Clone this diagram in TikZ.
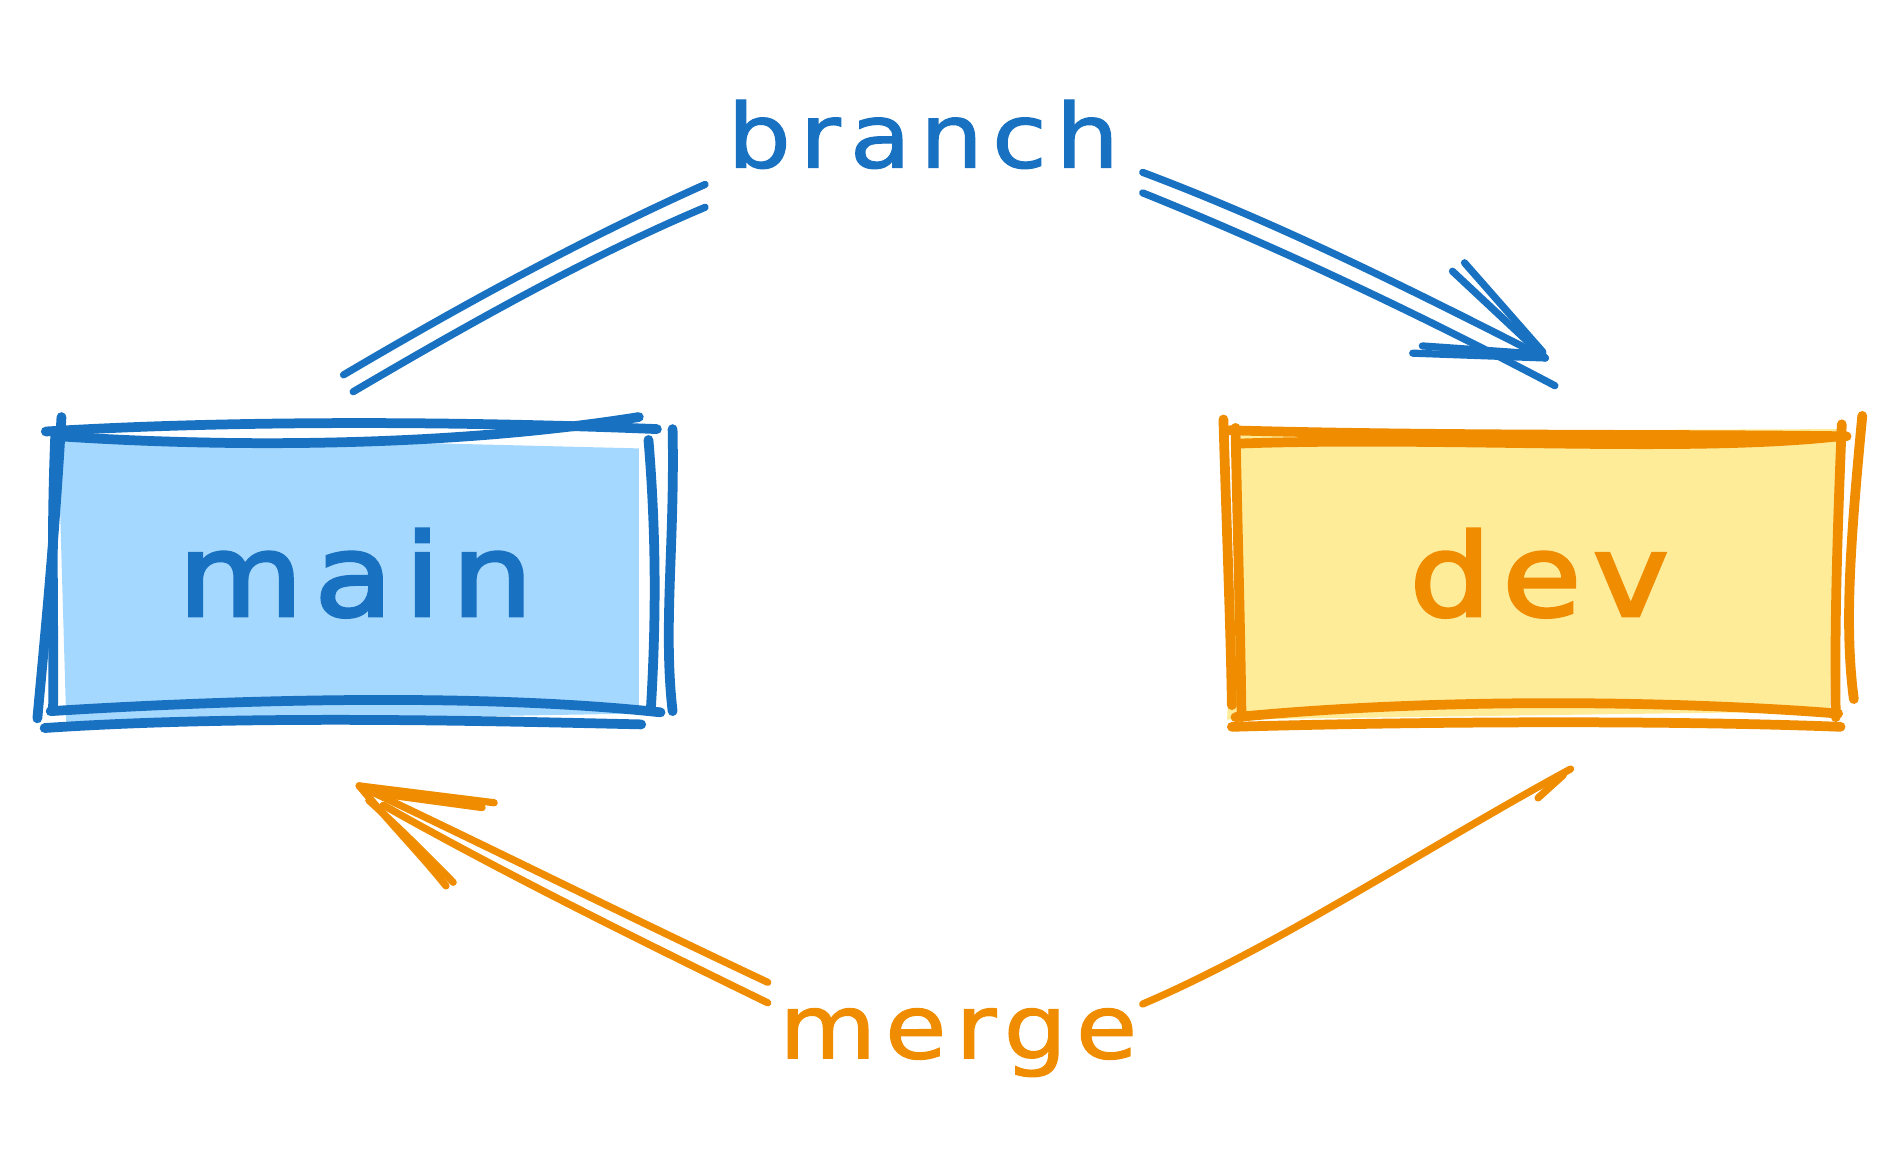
\documentclass[tikz,border=0pt]{standalone}
\usepackage{fontspec}
\setmainfont{DejaVu Sans}
\definecolor{bstroke}{HTML}{1971C2}
\definecolor{bfill}{HTML}{A5D8FF}
\definecolor{ostroke}{HTML}{F08C00}
\definecolor{ofill}{HTML}{FFEC99}
\newcommand{\wide}[1]{\scalebox{1.12}[1]{#1}}
\begin{document}
\begin{tikzpicture}[x=0.01cm,y=-0.01cm,
  sk/.style={line width=2.3pt, line cap=round, line join=round},
  ar/.style={line width=1.7pt, line cap=round, line join=round},
  boxlbl/.style={font=\fontsize{27}{30}\selectfont\addfontfeatures{LetterSpace=9,FakeBold=2.6}, inner sep=0pt, anchor=base},
  arlbl/.style={font=\fontsize{21}{24}\selectfont\addfontfeatures{LetterSpace=9,FakeBold=1.4}, inner sep=0pt, anchor=base}]
\useasboundingbox (0,0) rectangle (1568,967);

% ---- main box ----
\fill[bfill] (48,360) -- (530,372) -- (530,592) -- (55,600) -- cycle;
\begin{scope}[sk, bstroke]
\draw (38,358) .. controls (200,348) and (400,350) .. (545,356);
\draw (50,362) .. controls (200,372) and (380,370) .. (530,346);
\draw (51,346) .. controls (45,450) and (38,520) .. (31,596);
\draw (46,358) .. controls (42,450) and (45,520) .. (44,590);
\draw (538,365) .. controls (545,450) and (544,520) .. (540,588);
\draw (558,356) .. controls (560,450) and (550,520) .. (558,590);
\draw (42,590) .. controls (200,580) and (400,575) .. (548,591);
\draw (37,604) .. controls (200,593) and (400,598) .. (532,601);
\end{scope}
\node[boxlbl, text=bstroke] (main) at (295,511) {\wide{main}};

% ---- dev box ----
\fill[ofill] (1030,358) -- (1525,356) -- (1518,590) -- (1018,597) -- cycle;
\begin{scope}[sk, ostroke]
\draw (1015,348) .. controls (1018,450) and (1021,520) .. (1022,585);
\draw (1025,355) .. controls (1027,450) and (1029,520) .. (1030,595);
\draw (1020,357) .. controls (1200,362) and (1400,360) .. (1532,362);
\draw (1028,368) .. controls (1200,362) and (1400,376) .. (1525,362);
\draw (1528,352) .. controls (1524,450) and (1522,520) .. (1523,595);
\draw (1545,345) .. controls (1535,450) and (1530,520) .. (1538,580);
\draw (1025,595) .. controls (1200,578) and (1400,582) .. (1525,592);
\draw (1022,603) .. controls (1200,598) and (1400,598) .. (1527,603);
\end{scope}
\node[boxlbl, text=ostroke] (dev) at (1277,511) {\wide{dev}};

% ---- labels ----
\node[arlbl, text=bstroke] (branch) at (766,139) {\wide{branch}};
\node[arlbl, text=ostroke] (merge) at (795,878) {\wide{merge}};

% ---- branch arrow ----
\coordinate (bA1) at (285,311);
\coordinate (bA2) at (293,325);
\coordinate (bB1) at (585,153);
\coordinate (bB2) at (585,172);
\coordinate (bC1) at (948,143);
\coordinate (bC2) at (948,160);
\coordinate (bT) at (1282,297);
\coordinate (bD2) at (1290,320);
\begin{scope}[ar, bstroke]
\draw (bA1) .. controls (380,255) and (480,200) .. (bB1);
\draw (bA2) .. controls (390,268) and (490,212) .. (bB2);
\draw (bC1) .. controls (1060,185) and (1170,240) .. (bT);
\draw (bC2) .. controls (1060,205) and (1180,262) .. (bD2);
\draw (bT) -- (1205,225);
\draw ([shift={(-2,-5)}]bT) -- (1215,218);
\draw (bT) -- (1172,293);
\draw ([shift={(-2,-3)}]bT) -- (1180,287);
\end{scope}

% ---- merge arrow ----
\coordinate (mA1) at (1303,638);
\coordinate (mB1) at (948,833);
\coordinate (mC1) at (637,815);
\coordinate (mC2) at (637,832);
\coordinate (mT) at (298,652);
\coordinate (mD2) at (318,668);
\begin{scope}[ar, ostroke]
\draw (mA1) .. controls (1180,705) and (1060,785) .. (mB1);
\draw ([shift={(-6,5)}]mA1) -- (1276,662);
\draw (mC1) .. controls (520,760) and (400,700) .. (mT);
\draw (mC2) .. controls (520,775) and (410,720) .. (mD2);
\draw (mT) -- (410,666);
\draw ([shift={(6,5)}]mT) -- (400,670);
\draw (mT) .. controls (330,690) and (350,710) .. (370,735);
\draw ([shift={(8,12)}]mT) .. controls (340,695) and (356,712) .. (376,732);
\end{scope}
\end{tikzpicture}
\end{document}
